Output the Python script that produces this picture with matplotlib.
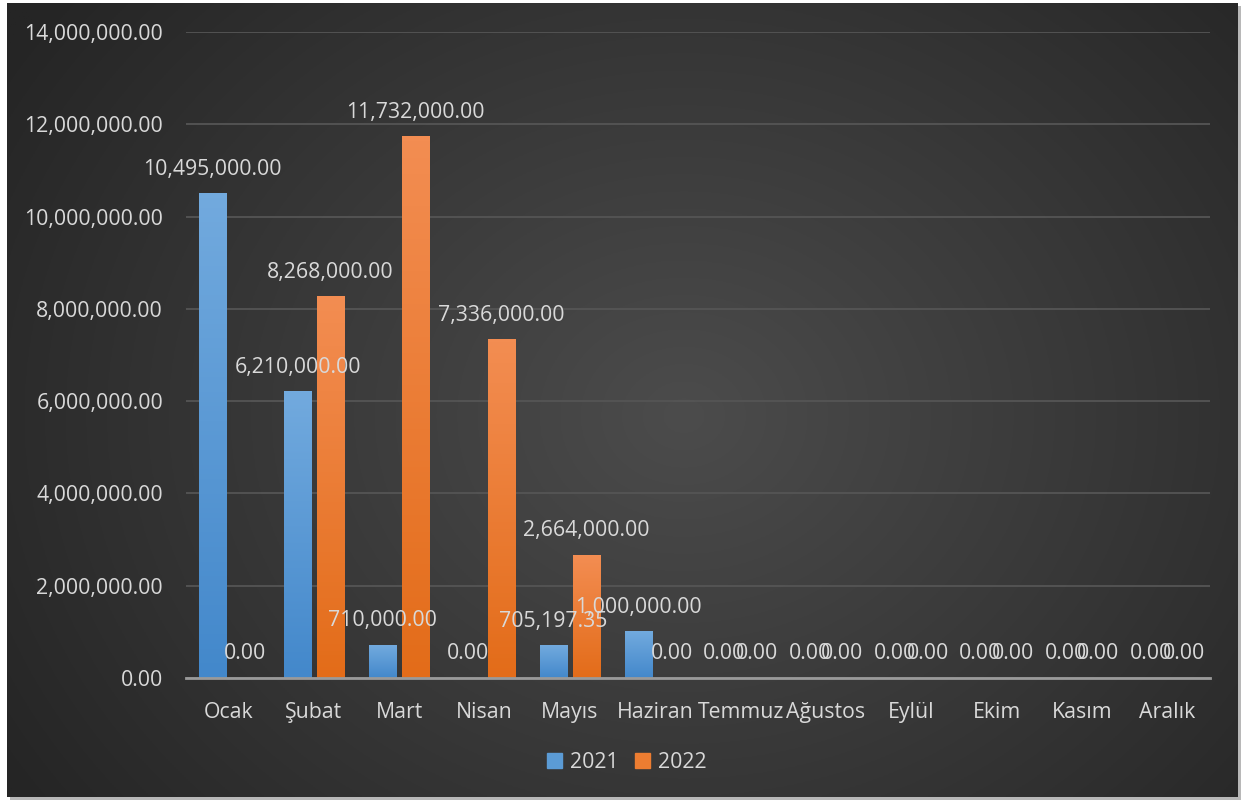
import numpy as np
import matplotlib
matplotlib.use("Agg")
import matplotlib.pyplot as plt
from matplotlib.patches import Rectangle
from matplotlib.ticker import FuncFormatter, MultipleLocator

months = ["Ocak", "Şubat", "Mart", "Nisan", "Mayıs", "Haziran", "Temmuz",
          "Ağustos", "Eylül", "Ekim", "Kasım", "Aralık"]
values_2021 = [10495000.00, 6210000.00, 710000.00, 0.00, 705197.35, 1000000.00,
               0.00, 0.00, 0.00, 0.00, 0.00, 0.00]
values_2022 = [0.00, 8268000.00, 11732000.00, 7336000.00, 2664000.00, 0.00,
               0.00, 0.00, 0.00, 0.00, 0.00, 0.00]
series_names = ["2021", "2022"]

plt.rcParams['font.family'] = ['Open Sans', 'DejaVu Sans']
TXT = "#d9d9d9"
FS = 15.3
W, H = 1242, 801
fig = plt.figure(figsize=(W / 100, H / 100), dpi=100, facecolor="white")

# background panel with radial gradient
px0, py0, px1, py1 = 7, 3, 1238, 797
shadow = fig.add_axes([(px0 + 3) / W, 1 - (py1 + 3) / H, (px1 - px0) / W, (py1 - py0) / H])
shadow.set_facecolor("#b8b8b8"); shadow.set_xticks([]); shadow.set_yticks([])
for s in shadow.spines.values():
    s.set_visible(False)
bg = fig.add_axes([px0 / W, 1 - py1 / H, (px1 - px0) / W, (py1 - py0) / H])
yy, xx = np.mgrid[0:1:400j, 0:1:620j]
r = np.sqrt(((xx - 0.55) * 1.3) ** 2 + ((yy - 0.52) * 1.0) ** 2)
r = np.clip(r / 0.85, 0, 1)
c_in = np.array([0x4c, 0x4c, 0x4c]) / 255
c_out = np.array([0x25, 0x25, 0x25]) / 255
img = c_in[None, None, :] * (1 - r[..., None]) + c_out[None, None, :] * r[..., None]
bg.imshow(img, extent=[0, 1, 0, 1], aspect="auto", origin="upper")
bg.set_xlim(0, 1); bg.set_ylim(0, 1); bg.axis("off")

# main axes
ax = fig.add_axes([186 / W, 1 - 678 / H, 1024 / W, 646 / H])
ax.patch.set_alpha(0)
x = np.arange(len(months))
bw = 0.317
off = 0.193
b1 = ax.bar(x - off, values_2021, bw, color="#5b9bd5", zorder=3, label=series_names[0])
b2 = ax.bar(x + off, values_2022, bw, color="#ed7d31", zorder=3, label=series_names[1])

def grad_fill(bars, top, bottom):
    g = np.linspace(0, 1, 100)[:, None]
    ct = np.array(matplotlib.colors.to_rgb(top))
    cb = np.array(matplotlib.colors.to_rgb(bottom))
    im = ct[None, None, :] * (1 - g[..., None]) + cb[None, None, :] * g[..., None]
    for p in bars:
        h = p.get_height()
        if h <= 0:
            continue
        x0 = p.get_x()
        ax.imshow(np.repeat(im, 2, axis=1), extent=[x0, x0 + p.get_width(), 0, h],
                  aspect="auto", origin="upper", zorder=4)

grad_fill(b1, "#72aade", "#4388cb")
grad_fill(b2, "#f38d52", "#e36c19")

ax.set_xlim(-0.5, len(months) - 0.5)
ax.set_ylim(0, 14000000)
ax.yaxis.set_major_locator(MultipleLocator(2000000))
ax.yaxis.set_major_formatter(FuncFormatter(lambda v, p: f"{v:,.2f}"))
ax.grid(axis="y", color="#555555", linewidth=1.3, zorder=0)
ax.set_axisbelow(True)
for s in ["top", "right", "left"]:
    ax.spines[s].set_visible(False)
ax.spines["bottom"].set_color("#9a9a9a")
ax.spines["bottom"].set_linewidth(2)
ax.spines["bottom"].set_zorder(6)
ax.set_xticks(x)
ax.set_xticklabels(months)
ax.tick_params(axis="both", length=0, colors=TXT, labelsize=FS)
ax.tick_params(axis="y", pad=16.5)
ax.tick_params(axis="x", pad=17)

for bars, vals in [(b1, values_2021), (b2, values_2022)]:
    for p, v in zip(bars, vals):
        ax.annotate(f"{v:,.2f}", (p.get_x() + p.get_width() / 2, v),
                    xytext=(0, 10), textcoords="offset points",
                    ha="center", va="bottom", color=TXT, fontsize=FS, zorder=7)

fig.legend(handles=[Rectangle((0, 0), 1, 1, color="#5b9bd5"),
                    Rectangle((0, 0), 1, 1, color="#ed7d31")],
           labels=series_names, loc="center",
           bbox_to_anchor=(627 / W, 1 - 762 / H),
           ncol=2, frameon=False, fontsize=FS, labelcolor=TXT,
           handlelength=0.7, handleheight=0.7, handletextpad=0.4, columnspacing=0.75)

fig.savefig("out.png", dpi=100, facecolor="white")
